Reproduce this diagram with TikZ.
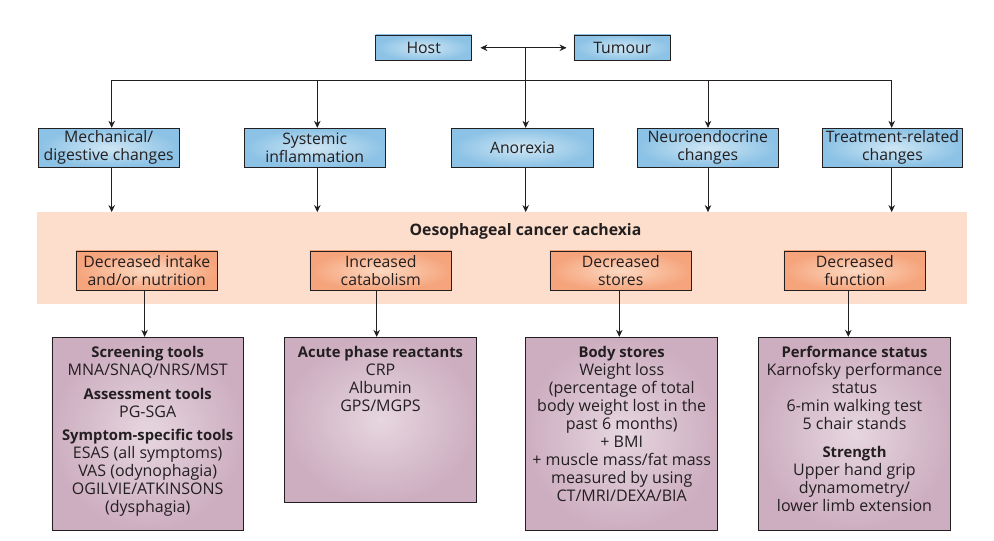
\documentclass[tikz,border=0pt]{standalone}
\usepackage{fontspec}
\setmainfont{Open Sans}
\usetikzlibrary{arrows.meta,calc}
\definecolor{bord}{HTML}{231F20}
\definecolor{blueIn}{HTML}{CFE6F4}
\definecolor{blueOut}{HTML}{8BC2E5}
\definecolor{orIn}{HTML}{FDD9C2}
\definecolor{orOut}{HTML}{F5A47C}
\definecolor{bandc}{HTML}{FDDECC}
\definecolor{puIn}{HTML}{E6D6DF}
\definecolor{puOut}{HTML}{CDAEC0}
\newcommand{\hd}[1]{{\fontsize{14.8}{18}\selectfont\bfseries #1}}
\begin{document}
\begin{tikzpicture}[x=1pt,y=-1pt,
  lbl/.style={font=\fontsize{15.8}{18}\selectfont, align=center, inner sep=0pt, text=bord},
  bbox/.style={lbl, draw=bord, line width=0.8pt, inner color=blueIn, outer color=blueOut, minimum height=38.7},
  obox/.style={lbl, draw=bord, line width=0.8pt, inner color=orIn, outer color=orOut, minimum height=39.7, minimum width=141.7},
  pbox/.style={draw=bord, line width=0.8pt, inner color=puIn, outer color=puOut, minimum width=192, inner sep=0pt},
  ptext/.style={font=\fontsize{16}{18}\selectfont, align=center, inner sep=0pt, text=bord, anchor=north},
  conn/.style={draw=bord, line width=0.8pt},
  arr/.style={conn, -{Stealth[length=7pt,width=6.5pt]}}]
\useasboundingbox (0,0) rectangle (994,541);
\fill[white] (0,0) rectangle (994,541);

% top
\node[bbox, minimum width=96, minimum height=25.7] (host) at (423.7,47.8) {Host};
\node[bbox, minimum width=96.7, minimum height=25.7] (tum) at (622.3,47.8) {Tumour};
\draw[conn, {Stealth[length=7pt,width=6.5pt]}-{Stealth[length=7pt,width=6.5pt]}, shorten <=8.3pt, shorten >=7pt] (host.east) -- (tum.west);
\coordinate (trunk) at (525.7,47.8);

% row 2
\node[bbox, minimum width=140.7] (mech) at (108.7,147.6) {Mechanical/\\digestive changes};
\node[bbox, minimum width=140.7] (sys) at (314.7,147.6) {Systemic\\inflammation};
\node[bbox, minimum width=141.4] (anor) at (522.5,147.6) {Anorexia};
\node[bbox, minimum width=140.3] (neuro) at (707.8,147.6) {Neuroendocrine\\changes};
\node[bbox, minimum width=140.5] (treat) at (892.5,147.6) {Treatment-related\\changes};

\coordinate (c1) at (111.7,80.3);
\coordinate (c2) at (317.3,80.3);
\coordinate (c4) at (708,80.3);
\coordinate (c5) at (891.7,80.3);

\draw[conn] (c1) -- (c5);
\draw[arr] (trunk) -- (trunk |- anor.north);
\draw[arr] (c1) -- (c1 |- mech.north);
\draw[arr] (c2) -- (c2 |- sys.north);
\draw[arr] (c4) -- (c4 |- neuro.north);
\draw[arr] (c5) -- (c5 |- treat.north);

% band
\node[fill=bandc, minimum width=930, minimum height=92, inner sep=0pt] (band) at (501.7,258.3) {};
\node[lbl, font=\fontsize{15.8}{18}\selectfont\bfseries] (title) at (525.5,231) {Oesophageal cancer cachexia};

\draw[arr] (c1 |- mech.south) -- (c1 |- band.north);
\draw[arr] (c2 |- sys.south) -- (c2 |- band.north);
\draw[arr] (trunk |- anor.south) -- (trunk |- band.north);
\draw[arr] (c4 |- neuro.south) -- (c4 |- band.north);
\draw[arr] (c5 |- treat.south) -- (c5 |- band.north);

% orange row
\node[obox] (intake) at (146.8,270.8) {Decreased intake\\and/or nutrition};
\node[obox] (cat) at (380.8,270.8) {Increased\\catabolism};
\node[obox] (stores) at (620.8,270.8) {Decreased\\stores};
\node[obox] (func) at (854.8,270.8) {Decreased\\function};

% purple boxes
\node[pbox, minimum width=191.5, minimum height=192.7] (p1) at (147.7,433.6) {};
\node[pbox, minimum width=192.4, minimum height=165] (p2) at (380.5,419.8) {};
\node[pbox, minimum width=192, minimum height=192.7] (p3) at (621.7,433.6) {};
\node[pbox, minimum width=192.4, minimum height=192.7] (p4) at (854.5,433.6) {};

\coordinate (d1) at (144.6,0);
\coordinate (d2) at (376.7,0);
\coordinate (d3) at (619.3,0);
\coordinate (d4) at (848.3,0);
\draw[arr] (d1 |- intake.south) -- (d1 |- p1.north);
\draw[arr] (d2 |- cat.south) -- (d2 |- p2.north);
\draw[arr] (d3 |- stores.south) -- (d3 |- p3.north);
\draw[arr] (d4 |- func.south) -- (d4 |- p4.north);

\node[ptext] (t1) at ([yshift=-9]p1.north) {\hd{Screening tools}\\MNA/SNAQ/NRS/MST\\[6pt]\hd{Assessment tools}\\PG-SGA\\[5pt]\hd{Symptom-specific tools}\\ESAS (all symptoms)\\VAS (odynophagia)\\OGILVIE/ATKINSONS\\(dysphagia)};
\node[ptext] (t2) at ([yshift=-9]p2.north) {\hd{Acute phase reactants}\\CRP\\Albumin\\GPS/MGPS};
\node[ptext] (t3) at ([yshift=-9]p3.north) {\hd{Body stores}\\Weight loss\\(percentage of total\\body weight lost in the\\past 6 months)\\+ BMI\\+ muscle mass/fat mass\\measured by using\\CT/MRI/DEXA/BIA};
\node[ptext] (t4) at ([yshift=-9]p4.north) {\hd{Performance status}\\Karnofsky performance\\status\\6-min walking test\\5 chair stands\\[10pt]\hd{Strength}\\Upper hand grip\\dynamometry/\\lower limb extension};
\end{tikzpicture}
\end{document}
